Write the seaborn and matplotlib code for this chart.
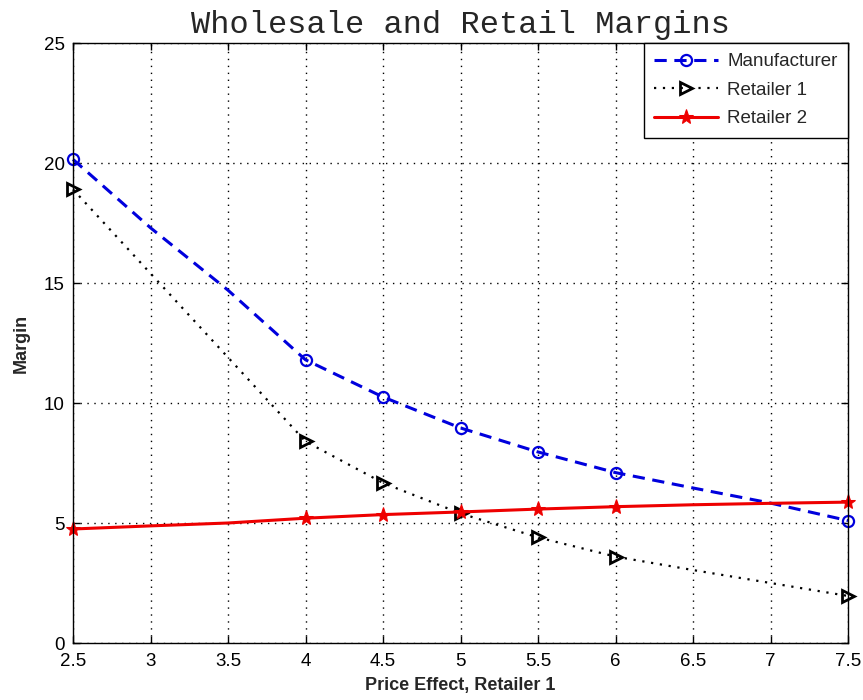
import numpy as np
import pandas as pd
import matplotlib
matplotlib.use("Agg")
import matplotlib.pyplot as plt
import seaborn as sns

price_effect = [2.5, 3.0, 3.5, 4.0, 4.5, 5.0, 5.5, 6.0, 6.5, 7.0, 7.5]
manufacturer = [20.15, 17.3, 14.7, 11.8, 10.25, 8.96, 7.96, 7.1, 6.46, 5.83, 5.1]
retailer1 = [18.9, 15.4, 11.9, 8.4, 6.67, 5.4, 4.4, 3.6, 3.04, 2.5, 1.96]
retailer2 = [4.75, 4.88, 5.0, 5.2, 5.35, 5.46, 5.58, 5.68, 5.76, 5.82, 5.87]
marker_idx = [0, 3, 4, 5, 6, 7, 10]

sns.set_theme(style="white")
plt.rcParams['font.family'] = ['Liberation Sans', 'DejaVu Sans']

fig = plt.figure(figsize=(8.63, 7.0), dpi=100)
ax = fig.add_axes([73/863, 1-643/700, (848-73)/863, (643-43)/700])

df = pd.DataFrame({"x": price_effect, "m": manufacturer, "r1": retailer1, "r2": retailer2})

sns.lineplot(data=df, x="x", y="m", ax=ax, color="#0000dd", linestyle=(0, (4, 2.5)), lw=2.2,
             marker="o", markersize=8, markerfacecolor="none", markeredgecolor="#0000dd",
             markeredgewidth=1.6, markevery=marker_idx, label="Manufacturer", clip_on=False)
sns.lineplot(data=df, x="x", y="r1", ax=ax, color="black", linestyle=(0, (1, 3)), lw=1.6,
             marker=">", markersize=9, markerfacecolor="none", markeredgecolor="black",
             markeredgewidth=2, markevery=marker_idx, label="Retailer 1", clip_on=False)
sns.lineplot(data=df, x="x", y="r2", ax=ax, color="#ee0000", linestyle="-", lw=2.2,
             marker="*", markersize=11, markerfacecolor="#ee0000", markeredgecolor="#ee0000",
             markevery=marker_idx, label="Retailer 2", clip_on=False)

ax.set_xlim(2.5, 7.5)
ax.set_ylim(0, 25)
ax.set_xticks(np.arange(2.5, 7.51, 0.5))
ax.set_xticklabels(["2.5", "3", "3.5", "4", "4.5", "5", "5.5", "6", "6.5", "7", "7.5"])
ax.set_yticks([0, 5, 10, 15, 20, 25])
ax.grid(True, color="black", linestyle=(0, (1, 4)), lw=1.0)
for s in ax.spines.values():
    s.set_color("black")
    s.set_linewidth(1.0)
ax.tick_params(direction="in", length=5, width=1, colors="black", labelsize=13.5,
               top=True, right=True, bottom=True, left=True)
ax.tick_params(axis="y", pad=6)
ax.tick_params(axis="x", pad=7)

ax.set_xlabel("Price Effect, Retailer 1", fontsize=13, fontweight="bold", labelpad=5)
ax.set_ylabel("Margin", fontsize=13, fontweight="bold", labelpad=10)
ax.set_title("Wholesale and Retail Margins", fontsize=23, family="Liberation Mono", pad=7)

leg = ax.legend(loc="upper right", fontsize=13.5, frameon=True, fancybox=False,
                borderaxespad=0, handlelength=3.4, handletextpad=0.5, borderpad=0.55,
                labelspacing=0.6)
leg.get_frame().set_edgecolor("black")
leg.get_frame().set_linewidth(1.0)
leg.get_frame().set_alpha(1)

fig.savefig("out.png", dpi=100)
